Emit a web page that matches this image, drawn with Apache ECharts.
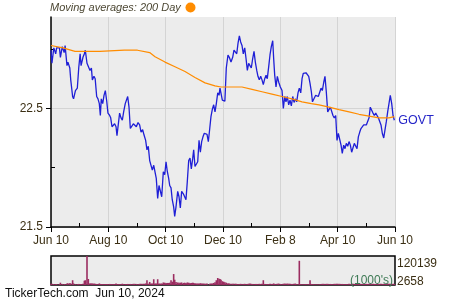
<!DOCTYPE html>
<html><head><meta charset="utf-8">
<script src="https://cdn.jsdelivr.net/npm/echarts@6/dist/echarts.min.js"></script>
<style>html,body{margin:0;padding:0;background:#fff}#c{width:450px;height:300px}</style>
</head><body><div id="c"></div>
<script>
// Day offsets from Jun 10, 2023
const days = [
0,1,3,5,6,9,10,12,14,15,
17,18,20,21,23,24,26,28,29.5,31,
32,34,35.5,36.5,38.3,39.7,41.5,43,44,45.7,
47,48.6,50,51.4,52.5,53.5,55,56.4,57.8,59.3,
60.6,62.4,63.5,64.9,66.3,67.7,69.2,70.2,71.6,73,
74.5,75.9,77.3,79,80.5,81.6,83,84.4,86.2,87.6,
89,90.8,92.6,94.3,95.8,97.5,99,100.7,102.1,103.5,
105,106.4,107.8,109.3,110.7,112,113.5,114.9,116.3,117.8,
119.5,121,122.4,123.7,125.2,126.3,127.7,129,130.5,131.6,
133,134.8,136.2,137.6,139,140.8,142.2,143.6,145,146.5,
147.9,149.3,150.8,151.8,153.2,154.6,156.1,157.5,158.9,160.3,
161.7,163.1,164.6,166,167.4,168.9,170.2,171.6,173.1,174.5,
175.9,177.4,178.8,179.8,180.9,182.3,183.7,185,186.5,188.3,
189.7,191.5,193.3,194.7,196.5,197.6,199,200.4,201.8,203.2,
204.6,206.1,207.5,208.9,210.3,211.7,213.1,214.6,216,217.4,
218.9,220.2,221.6,223.1,224.5,225.9,227.4,228.8,230.1,231.6,
233,234.4,235.9,236.9,238,239.4,240.8,242.3,244,245.8,
247.2,248.7,250,251.4,252.9,254.3,255.7,257.2,258.6,260,
261.4,262.8,264.2,265.7,267.1,268.4,269.9,271.3,272.7,274.2,
275.6,277,278.2,279.2,280.2,281.6,283,284.4,285.9,287.3,
288.7,290.2,291.5,292.9,294.4,295.8,297.2,298.7,300,301.4,
302.9,304.3,305.7,307.2,308.6,309.9,311.4,312.8,314.2,315.7,
317.1,318.5,319.9,321.3,322.7,324.2,325.6,327,328.5,329.8,
331.2,332.7,334.1,335.5,337,338.4,339.7,341.2,342.6,344,
345.5,346.9,348.3,349.7,351.1,352.5,354,355.4,356.8,358.2,
359.6,361,362.5,363.9,365.3
];
const prices = [
22.99,22.88,23.01,22.96,23.01,23.01,22.93,23.02,22.97,23.03,
22.86,22.89,22.84,22.74,22.60,22.58,22.65,22.67,22.84,22.96,
22.86,22.93,22.96,22.99,22.88,22.87,22.82,22.84,22.74,22.77,
22.75,22.60,22.58,22.54,22.44,22.58,22.54,22.61,22.65,22.56,
22.46,22.44,22.42,22.345,22.34,22.37,22.345,22.27,22.28,22.46,
22.42,22.40,22.47,22.54,22.555,22.60,22.51,22.33,22.32,22.37,
22.36,22.345,22.38,22.36,22.30,22.32,22.275,22.23,22.15,22.18,
22.06,22.05,21.98,22.02,22.02,21.91,21.74,21.85,21.84,21.755,
21.966,21.94,22.05,21.97,21.91,21.85,21.83,21.73,21.67,21.59,
21.67,21.80,21.755,21.66,21.80,21.78,21.755,21.73,21.88,22.06,
22.08,21.99,22.08,22.15,22.01,22.01,22.05,22.23,22.13,22.22,
22.26,22.29,22.29,22.28,22.22,22.33,22.43,22.49,22.53,22.47,
22.54,22.63,22.61,22.67,22.68,22.57,22.57,22.56,22.84,22.95,
22.93,22.89,22.93,22.99,22.99,22.96,23.05,23.11,23.06,23.03,
22.96,23.01,22.92,22.82,22.88,22.86,22.84,22.92,22.98,22.89,
22.82,22.77,22.74,22.77,22.74,22.70,22.75,22.78,22.75,22.85,
22.95,23.02,23.07,22.92,22.78,22.68,22.77,22.72,22.68,22.65,
22.50,22.60,22.555,22.60,22.53,22.57,22.52,22.60,22.55,22.58,
22.555,22.63,22.67,22.63,22.75,22.795,22.81,22.80,22.795,22.77,
22.71,22.64,22.555,22.54,22.54,22.61,22.61,22.60,22.61,22.67,
22.65,22.72,22.77,22.64,22.47,22.48,22.51,22.50,22.44,22.42,
22.44,22.23,22.29,22.275,22.19,22.12,22.19,22.16,22.205,22.18,
22.22,22.19,22.13,22.12,22.205,22.19,22.16,22.26,22.30,22.33,
22.32,22.36,22.37,22.36,22.345,22.42,22.51,22.50,22.46,22.44,
22.46,22.44,22.42,22.42,22.36,22.29,22.25,22.32,22.39,22.47,
22.54,22.61,22.54,22.44,22.40
];
// Volume in 1000's
const volumes = [
8000,7500,6500,6000,6800,6200,12000,7000,6500,6000,
9000,9500,10000,9000,22000,9000,6000,6500,7000,6500,
7000,7500,20000,22000,120139,27000,9500,9000,9000,9000,
8000,7000,7000,9000,7000,6500,6500,7000,6500,6500,
6500,7000,6500,6500,6500,6500,9000,6500,6500,6500,
6500,8000,6500,6500,6500,7000,7000,7000,7000,7500,
7500,7000,7000,7500,8000,7500,8000,9000,22000,8000,
15000,9000,9000,26000,9000,9000,26000,9000,8500,9000,
13000,12000,11000,11000,11000,12000,22000,16000,47000,24000,
15000,13000,12000,12000,13000,11000,12000,11000,13000,12000,
11000,11000,12000,11000,10000,9000,9000,9000,10000,9000,
9000,8500,8000,9000,2658,8000,8500,9000,11000,14000,
22000,31000,28000,27000,24000,18000,16000,14000,12000,10000,
9000,8000,8000,7500,8000,7000,7000,7000,7500,7000,
7000,7500,7000,7000,8000,8500,7500,7000,7000,7000,
7000,7000,7500,7000,8000,22000,7000,7000,6500,6500,
7500,7000,7000,9000,7000,7000,8000,8500,7000,7000,
8000,8500,8000,8500,8000,8000,7000,7000,8000,8500,
6000,6000,100700,6500,6000,6000,6000,6500,6000,6000,
22000,7000,6000,6000,5500,5500,5500,5500,6000,7000,
7500,7500,7000,7500,7500,7000,7000,6500,7000,7500,
7500,8000,7500,7500,7000,7000,6500,6500,6500,6000,
7500,7000,8000,7500,7000,7500,7000,7500,8000,7000,
7500,7000,7000,7500,7000,7500,8000,7000,7500,7000,
7000,7500,7000,7500,8000,7000,7500,7000,7500,8000,
8000,7500,7000,7500,7000
];
// 200 day moving average
const maDays = [0,12.8,25.5,52,78,92,105,110.7,121.3,131.9,142.6,153.2,163.9,174.5,180.9,192.6,203.2,213.9,224.5,235.1,245.8,256.4,267.1,277,285.2,295.8,306.4,317.1,327.7,338.4,349,359.6,365.3];
const maVals = [23.03,23.01,22.98,22.98,22.99,22.99,22.97,22.935,22.89,22.85,22.81,22.76,22.715,22.69,22.68,22.68,22.68,22.66,22.64,22.62,22.60,22.58,22.555,22.54,22.53,22.51,22.49,22.47,22.45,22.435,22.42,22.42,22.43];
const xTickLabels = ['Jun 10','Aug 10','Oct 10','Dec 10','Feb 8','Apr 10','Jun 10'];
const yTickValues = [21.5, 22.5];
const yMinorValues = [22.0, 23.0];
const yMin = 21.5, yMax = 23.27;
const volMax = 120139, volMin = 2658;
const ticker = 'GOVT';
const dateText = 'Jun 10, 2024';

const FONT = '"Liberation Sans", Arial, sans-serif';
const labelColor = '#3b2f14';
const chart = echarts.init(document.getElementById('c'), null, {renderer: 'canvas'});
chart.setOption({
  animation: false,
  backgroundColor: '#ffffff',
  textStyle: {fontFamily: FONT},
  grid: [
    {left: 51, top: 17, width: 344, height: 210, show: true, backgroundColor: '#ececec', borderWidth: 0},
    {left: 51, top: 256, width: 344, height: 29, show: true, backgroundColor: '#ececec', borderColor: '#000', borderWidth: 1.5}
  ],
  xAxis: [
    {type: 'value', gridIndex: 0, min: 0, max: 366, interval: 61,
     axisLine: {show: true, lineStyle: {color: '#000', width: 1.5}},
     axisTick: {show: true, length: 5, lineStyle: {color: '#000'}},
     minorTick: {show: true, splitNumber: 2, length: -4, lineStyle: {color: '#000'}},
     axisLabel: {formatter: v => xTickLabels[Math.round(v / 61)], color: labelColor, fontSize: 12, fontFamily: FONT, margin: 8},
     splitLine: {show: true, lineStyle: {color: '#d4d4d4', width: 1}},
     minorSplitLine: {show: false}},
    {type: 'value', gridIndex: 1, min: 0, max: 366, show: false}
  ],
  yAxis: [
    {type: 'value', gridIndex: 0, min: yMin, max: yMax, interval: 1,
     axisLine: {show: true, lineStyle: {color: '#000', width: 1.5}},
     axisTick: {show: true, length: 5, customValues: yTickValues, lineStyle: {color: '#000'}},
     axisLabel: {customValues: yTickValues, formatter: v => v.toFixed(1), color: labelColor, fontSize: 12, fontFamily: FONT, margin: 8},
     splitLine: {show: true, lineStyle: {color: '#d4d4d4', width: 1}}},
    {type: 'value', gridIndex: 0, min: yMin, max: yMax, position: 'left',
     axisLine: {show: false}, axisLabel: {show: false}, splitLine: {show: false},
     axisTick: {show: true, inside: true, length: 4, customValues: yMinorValues, lineStyle: {color: '#000'}}},
    {type: 'value', gridIndex: 1, min: volMin, max: volMax, show: false}
  ],
  series: [
    {type: 'line', xAxisIndex: 0, yAxisIndex: 0, data: days.map((d, i) => [d, prices[i]]),
     showSymbol: false, symbol: 'none', lineStyle: {color: '#1f1fd6', width: 1.3}, z: 3,
     endLabel: {show: true, formatter: ticker, color: '#2525c8', fontSize: 12.5, fontFamily: FONT, distance: 4}},
    {type: 'line', xAxisIndex: 0, yAxisIndex: 0, data: maDays.map((d, i) => [d, maVals[i]]),
     showSymbol: false, symbol: 'none', lineStyle: {color: '#ff8c00', width: 1.2}, z: 4},
    {type: 'bar', xAxisIndex: 1, yAxisIndex: 2, data: days.map((d, i) => [d, volumes[i]]),
     barWidth: 1.6, itemStyle: {color: '#9b2c60'}, z: 2}
  ],
  graphic: [
    {type: 'text', left: 50, top: 2, style: {text: 'Moving averages: 200 Day', font: 'italic 11px ' + FONT, fill: '#4d4834'}},
    {type: 'circle', shape: {cx: 190.5, cy: 7.5, r: 5}, style: {fill: '#ff8c00'}},
    {type: 'text', x: 397, y: 264, style: {text: String(volMax), font: '12px ' + FONT, fill: labelColor, textAlign: 'left', textVerticalAlign: 'middle', align: 'left', verticalAlign: 'middle'}},
    {type: 'text', x: 397, y: 282, style: {text: String(volMin), font: '12px ' + FONT, fill: labelColor, textAlign: 'left', textVerticalAlign: 'middle', align: 'left', verticalAlign: 'middle'}},
    {type: 'text', x: 393, y: 281, z: 10, style: {text: "(1000's)", font: '12px ' + FONT, fill: '#3e7a55', textAlign: 'right', textVerticalAlign: 'middle', align: 'right', verticalAlign: 'middle'}},
    {type: 'text', x: 5, y: 294, style: {text: 'TickerTech.com  ' + dateText, font: '12px ' + FONT, fill: '#111', textAlign: 'left', textVerticalAlign: 'middle', align: 'left', verticalAlign: 'middle'}}
  ]
});
</script></body></html>
